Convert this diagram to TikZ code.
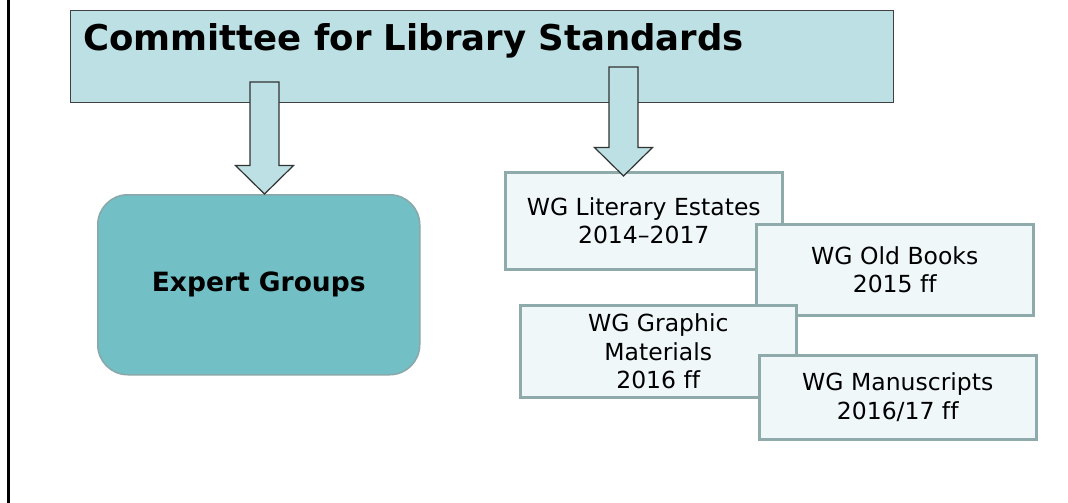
\documentclass[tikz,border=0pt]{standalone}
\usepackage{fontspec}
\setmainfont[Ligatures=NoCommon]{DejaVu Sans}
\usetikzlibrary{calc}
\definecolor{clsblue}{HTML}{BCE0E3}
\definecolor{egteal}{HTML}{72BFC5}
\definecolor{egedge}{HTML}{8AA7A9}
\definecolor{wgfill}{HTML}{EFF7F8}
\definecolor{wgedge}{HTML}{8FAAAB}
% block arrow pointing down: #1 top of shaft, #2 tip
\newcommand{\blockdown}[2]{%
  \draw[blockarrow] ($(#1)+(-14.5,0)$) -- ($(#1)+(14.5,0)$) -- ($(#2)+(14.5,-28.5)$)
    -- ($(#2)+(29,-28.5)$) -- (#2) -- ($(#2)+(-29,-28.5)$) -- ($(#2)+(-14.5,-28.5)$) -- cycle;}

\begin{document}
\begin{tikzpicture}[x=1pt, y=-1pt,
                    cls/.style = {draw=black!75, fill=clsblue, line width=1.2pt, anchor=north west,
                                  inner sep=0pt, minimum width=823pt, minimum height=92pt},
                    title/.style = {anchor=base west, inner sep=0pt, font=\fontsize{35.5}{42}\selectfont\bfseries},
                    expert/.style = {draw=egedge, fill=egteal, line width=1.5pt, rounded corners=30pt,
                                     anchor=north west, minimum width=322pt, minimum height=180pt,
                                     font=\fontsize{26.5}{31}\selectfont\bfseries},
                    wg/.style = {draw=wgedge, fill=wgfill, line width=2.5pt, anchor=north west, align=center,
                                 inner sep=0pt, minimum width=277pt, font=\fontsize{23.5}{28.5}\selectfont},
                    blockarrow/.style = {draw=black!80, fill=clsblue, line width=1.2pt, line join=miter}]
\useasboundingbox (0,0) rectangle (1068,503);
\draw[line width=2.5pt] (8.5,0) -- (8.5,503);

\node[cls] (cls) at (70,10) {};
\node[title] (clstitle) at (83,51) {Committee for Library Standards};

\node[expert] (eg) at (97,194) {Expert Groups};

\node[wg, minimum height=97pt] (lit) at (504,171) {WG Literary Estates\\2014--2017};
\node[wg, minimum height=91pt] (old) at (755,223) {WG Old Books\\2015 ff};
\node[wg, minimum height=92pt, minimum width=276pt] (graph) at (519,304) {WG Graphic\\Materials\\2016 ff};
\node[wg, minimum height=84pt] (manu) at (758,354) {WG Manuscripts\\2016/17 ff};

\coordinate (la) at (264.5,82);
\coordinate (lt) at (la |- eg.north);
\coordinate (ra) at (623.5,67);
\coordinate (rt) at ($(ra |- lit.north)+(0,5)$);
\blockdown{la}{lt}
\blockdown{ra}{rt}
\end{tikzpicture}
\end{document}
